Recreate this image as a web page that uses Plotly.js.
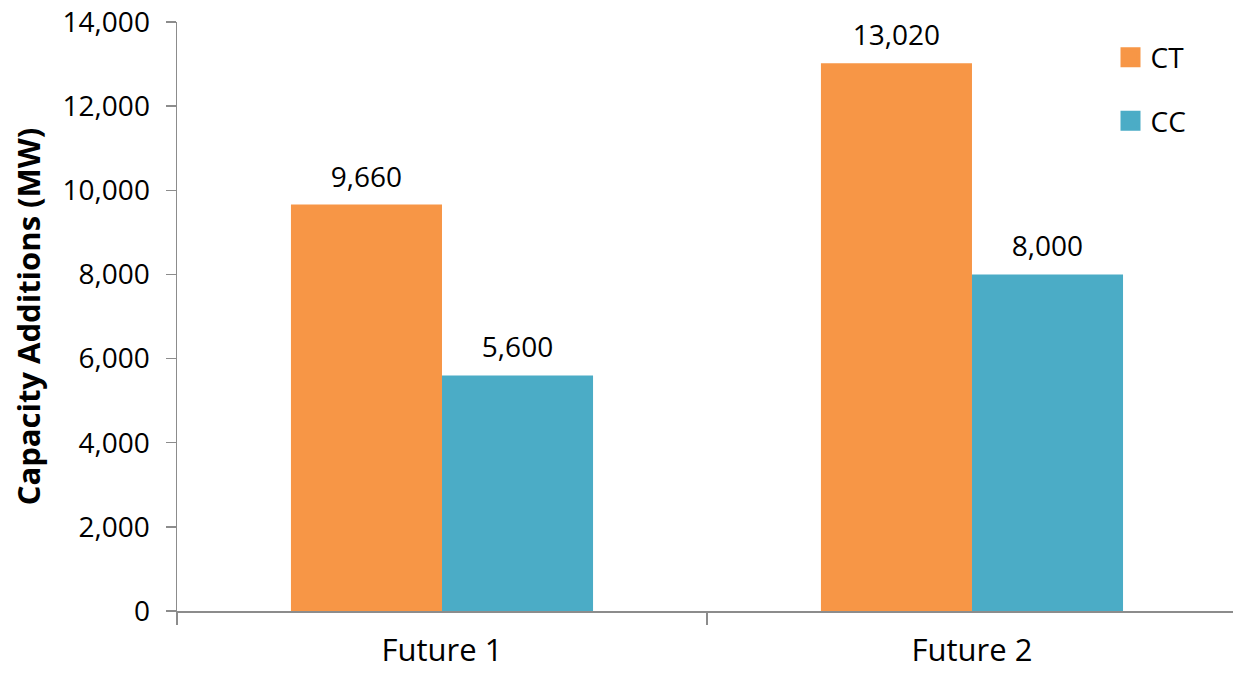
<!DOCTYPE html>
<html>
<head>
<meta charset="utf-8">
<script src="https://cdn.plot.ly/plotly-3.0.1.min.js"></script>
<style>html,body{margin:0;padding:0;background:#fff;} #chart{width:1233px;height:674px;}</style>
</head>
<body>
<div id="chart"></div>
<script>
const categories = ["Future 1", "Future 2"];
const seriesNames = ["CT", "CC"];
const ctValues = [9660, 13020];
const ccValues = [5600, 8000];
const seriesColors = ["#F79646", "#4BACC6"];
const yTickVals = [0, 2000, 4000, 6000, 8000, 10000, 12000, 14000];
const yTitle = "Capacity Additions (MW)";

const FONT = "'Open Sans', 'Liberation Sans', sans-serif";
const seriesValues = [ctValues, ccValues];

const barTraces = seriesNames.map((name, i) => ({
  type: "bar",
  name: name,
  x: categories,
  y: seriesValues[i],
  offsetgroup: name,
  marker: { color: seriesColors[i] },
  showlegend: false,
  hoverinfo: "x+y+name"
}));

// value labels, grouped like the bars
const labelTraces = seriesNames.map((name, i) => ({
  type: "scatter",
  mode: "markers+text",
  name: name,
  x: categories,
  y: seriesValues[i],
  offsetgroup: name,
  text: seriesValues[i].map(v => v.toLocaleString("en-US")),
  textposition: "top center",
  textfont: { family: FONT, size: 28, color: "#000" },
  marker: { size: 16, opacity: 0, color: seriesColors[i] },
  cliponaxis: false,
  showlegend: false,
  hoverinfo: "skip"
}));

const legendTraces = seriesNames.map((name, i) => ({
  type: "scatter",
  mode: "markers",
  name: name,
  x: [null],
  y: [null],
  legendgroup: name,
  marker: { symbol: "square", size: 16, color: seriesColors[i], line: { color: seriesColors[i], width: 4 } },
  showlegend: true,
  hoverinfo: "skip"
}));

const layout = {
  width: 1233,
  height: 674,
  margin: { l: 177, r: 0, t: 22, b: 63 },
  paper_bgcolor: "#fff",
  plot_bgcolor: "#fff",
  font: { family: FONT, color: "#000" },
  barmode: "group",
  bargap: 0.43,
  bargroupgap: 0,
  scattermode: "group",
  scattergap: 0.43,
  showlegend: true,
  legend: {
    x: 0.884, xanchor: "left",
    y: 0.982, yanchor: "top",
    font: { family: FONT, size: 28, color: "#000" },
    tracegroupgap: 24,
    bgcolor: "rgba(0,0,0,0)"
  },
  xaxis: {
    type: "category",
    range: [-0.5, 1.4925],
    showline: true,
    linecolor: "#8c8c8c",
    linewidth: 1.5,
    ticks: "outside",
    tickson: "boundaries",
    ticklen: 12,
    tickcolor: "#8c8c8c",
    tickwidth: 1.5,
    ticklabelstandoff: 11,
    tickfont: { family: FONT, size: 31, color: "#000" },
    showgrid: false,
    zeroline: false,
    fixedrange: true
  },
  yaxis: {
    range: [0, 14000],
    tickvals: yTickVals,
    tickformat: ",",
    showline: true,
    linecolor: "#8c8c8c",
    linewidth: 1.5,
    ticks: "outside",
    ticklen: 10,
    tickcolor: "#8c8c8c",
    tickwidth: 1.5,
    ticklabelstandoff: 10,
    tickfont: { family: FONT, size: 28, color: "#000" },
    showgrid: false,
    zeroline: false,
    automargin: false,
    title: { text: "<b>" + yTitle + "</b>", font: { family: FONT, size: 31, color: "#000" }, standoff: 13 },
    fixedrange: true
  }
};

Plotly.newPlot("chart", [...barTraces, ...labelTraces, ...legendTraces], layout, { displayModeBar: false, staticPlot: true });
</script>
</body>
</html>
